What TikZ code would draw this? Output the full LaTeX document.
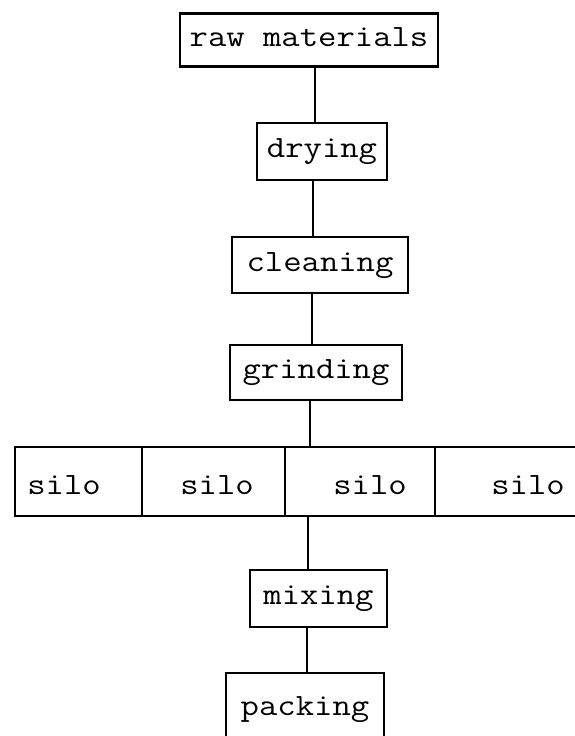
\documentclass[tikz,border=0pt]{standalone}
\usepackage{fontspec}
\usepackage{graphicx}
% typewriter lettering, set a little wider than the font's own pitch
\newcommand\typed[1]{\scalebox{1.15}[1]{#1}}
\begin{document}
\begin{tikzpicture}[x=1pt,y=-1pt,
  txt/.style={inner sep=0pt, font=\ttfamily\fontsize{31}{31}\selectfont,
              text height=18pt, text depth=6pt},
  box/.style={txt, draw, line width=2.1pt},
  link/.style={line width=2.1pt}]
\useasboundingbox (0,0) rectangle (575,736);
\fill[white] (0,0) rectangle (575,736);
\clip (0,0) rectangle (575,736);

% process steps
\node[box, minimum width=258pt, minimum height=53pt] (raw)   at (309,40)      {\typed{raw materials}};
\node[box, minimum width=130pt, minimum height=57pt] (dry)   at (322,151.5)   {\typed{drying}};
\node[box, minimum width=176pt, minimum height=56pt] (clean) at (320,265)     {\typed{cleaning}};
\node[box, minimum width=172pt, minimum height=55pt] (grind) at (316,372.5)   {\typed{grinding}};
\node[box, minimum width=137pt, minimum height=57pt] (mix)   at (318.5,598.5) {\typed{mixing}};
\node[box, minimum width=158pt, minimum height=72pt] (pack)  at (305,709)     {\typed{packing}};

% row of silos, open towards the right
\draw[link] (575,447) -- (15,447) -- (15,516) -- (575,516);
\draw[link] (142,447) -- (142,516);
\draw[link] (285,447) -- (285,516);
\draw[link] (435,447) -- (435,516);
\node[txt] (silo1) at (64,488)  {\typed{silo}};
\node[txt] (silo2) at (217,488) {\typed{silo}};
\node[txt] (silo3) at (370,488) {\typed{silo}};
\node[txt] (silo4) at (528,488) {\typed{silo}};
\coordinate (rowtop) at (310,447);
\coordinate (rowbot) at (308,516);

% vertical connectors
\coordinate (c1) at (315,0);
\coordinate (c2) at (313,0);
\coordinate (c3) at (312,0);
\coordinate (c6) at (307,0);
\draw[link] (c1 |- raw.south)   -- (c1 |- dry.north);
\draw[link] (c2 |- dry.south)   -- (c2 |- clean.north);
\draw[link] (c3 |- clean.south) -- (c3 |- grind.north);
\draw[link] (rowtop |- grind.south) -- (rowtop);
\draw[link] (rowbot) -- (rowbot |- mix.north);
\draw[link] (c6 |- mix.south)   -- (c6 |- pack.north);
\end{tikzpicture}
\end{document}
